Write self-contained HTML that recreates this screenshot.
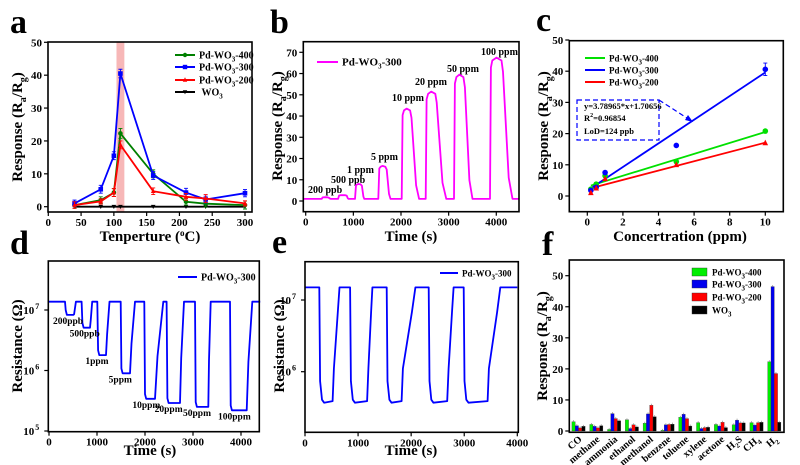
<!DOCTYPE html>
<html><head><meta charset="utf-8">
<style>
html,body{margin:0;padding:0;background:#fff;}
svg{display:block;font-family:"Liberation Serif",serif;font-weight:bold;}
</style></head>
<body>
<svg id="fig" width="800" height="465" viewBox="0 0 800 465" xmlns="http://www.w3.org/2000/svg">
<g font-size="34" font-weight="bold">
<text x="10" y="33">a</text>
<text x="270" y="33">b</text>
<text x="536" y="31">c</text>
<text x="10" y="254">d</text>
<text x="272" y="253">e</text>
<text x="542" y="255">f</text>
</g>
<g font-size="10">
<text x="308" y="193">200 ppb</text>
<text x="331" y="183">500 ppb</text>
<text x="347" y="173">1 ppm</text>
<text x="371" y="160">5 ppm</text>
<text x="392" y="101">10 ppm</text>
<text x="415" y="85">20 ppm</text>
<text x="447" y="72">50 ppm</text>
<text x="481" y="55">100 ppm</text>
</g>
</svg>
<script>
// ---------- Panel a data ----------
const tempsA = [40, 80, 100, 110, 160, 210, 240, 300];
const respA400 = [0.5, 2, 4.3, 22.3, 10, 1.5, 0.9, 0.5];
const respA300 = [1, 5.3, 15.5, 40.5, 9.5, 4.3, 2.2, 4.1];
const respA200 = [0.5, 1.6, 4.3, 18.8, 4.7, 3, 2.5, 1];
const respAWO3 = [0, 0, 0, 0, 0, 0, 0, 0];
const errA400 = [1, 1, 1.2, 1.5, 1.2, 1, 1, 1.2];
const errA300 = [1, 1.2, 1.2, 1.3, 1.2, 1.3, 1, 1.1];
const errA200 = [1, 0.8, 1.2, 1.2, 1, 1, 1.2, 0.8];
const bandA = [104, 116];
const xTicksA = [0, 50, 100, 150, 200, 250, 300];
const yTicksA = [0, 10, 20, 30, 40, 50];
// ---------- Panel b data ----------
const pulseStartB = [335, 680, 1035, 1524, 2014, 2518, 3112, 3867];
const pulseEndB = [480, 860, 1180, 1700, 2220, 2750, 3340, 4140];
const pulseRecB = [530, 900, 1230, 1780, 2380, 2950, 3500, 4340];
const pulsePeakB = [1.8, 2.8, 8, 16.5, 43.5, 51.5, 59.5, 67.5];
const baselineB = 1;
const xTicksB = [0, 1000, 2000, 3000, 4000];
const yTicksB = [0, 10, 20, 30, 40, 50, 60, 70];
// ---------- Panel c data ----------
const concC = [0.2, 0.5, 1, 5, 10];
const respC400 = [2.2, 3.8, 6.5, 11, 20.8];
const respC300 = [1.8, 2.8, 7.5, 16.2, 40.6];
const respC200 = [1, 2.5, 5.5, 10, 17];
const fitSlopeC = [1.75, 3.78965, 1.49];
const fitInterC = [3.0, 1.70656, 2.2];
const xTicksC = [0, 2, 4, 6, 8, 10];
const yTicksC = [0, 10, 20, 30, 40, 50];
// ---------- Panel d data ----------
const fallD = [333, 680, 1007, 1493, 1986, 2451, 3042, 3771];
const riseD = [507, 854, 1188, 1688, 2208, 2729, 3319, 4118];
const recD = [560, 900, 1260, 1792, 2382, 2812, 3368, 4236];
const minD = [8.3e6, 5.1e6, 1.8e6, 9e5, 3.4e5, 2.9e5, 2.5e5, 2.2e5];
const baseD = 1.37e7;
const labelsD = ["200ppb", "500ppb", "1ppm", "5ppm", "10ppm", "20ppm", "50ppm", "100ppm"];
const xTicksD = [0, 1000, 2000, 3000, 4000];
const yExpD = [5, 6, 7];
// ---------- Panel e data ----------
const fallE = [270, 850, 1540, 2330, 2990];
const upE = [520, 1170, 1820, 2680, 3440];
const highE = [650, 1270, 2080, 2800, 3680];
const lowE = 3.7e5;
const baseE = 1.5e7;
const xTicksE = [0, 1000, 2000, 3000, 4000];
const yExpE = [6, 7];
// ---------- Panel f data ----------
const gasesF = ["CO", "methane", "ammonia", "ethanol", "methanol", "benzene", "toluene", "xylene", "acetone", "H2S", "CH4", "H2"];
const respF400 = [3, 2.1, 0.5, 3.6, 2.5, 0.2, 4.4, 2.7, 2.1, 2, 2.7, 22.3];
const respF300 = [1.7, 1.5, 5.6, 0.8, 5.5, 2, 5.4, 0.8, 1.6, 3.5, 1.9, 46.5];
const respF200 = [1, 1, 4, 2, 8.3, 2.1, 4, 1.1, 2.8, 2.6, 2.7, 18.5];
const respFWO3 = [1.5, 1.7, 3.3, 1.3, 4.6, 2.2, 1.6, 1.2, 1.1, 2.6, 2.8, 2.8];
const yTicksF = [0, 10, 20, 30, 40, 50];

const NS = "http://www.w3.org/2000/svg";
const svg = document.getElementById('fig');
function mk(tag, attrs, parent) {
  const e = document.createElementNS(NS, tag);
  for (const k in attrs) e.setAttribute(k, attrs[k]);
  (parent || svg).appendChild(e);
  return e;
}
function lin(d0, d1, p0, p1) { return v => p0 + (v - d0) * (p1 - p0) / (d1 - d0); }
function logS(e0, p0, pxPerDec) { return v => p0 - (Math.log10(v) - e0) * pxPerDec; }
function ptsToD(pts) { return pts.map((p, i) => (i ? 'L' : 'M') + p[0].toFixed(1) + ',' + p[1].toFixed(1)).join(''); }

function frame(g, L, R, T, B) {
  const r = mk('rect', {x: L, y: T, width: R - L, height: B - T, fill: 'none', stroke: '#000', 'stroke-width': 1.6}, g);
  
  
}
function xTicks(g, vals, sx, B, fmt) {
  vals.forEach(v => {
    const x = sx(v);
    const t = mk('line', {x1: x, x2: x, y1: B, y2: B + 4, stroke: '#000', 'stroke-width': 1.2}, g);
    
    
    const l = mk('text', {x: x, y: B + 14, 'font-size': 11, 'text-anchor': 'middle'}, g);
    
    
    l.textContent = fmt ? fmt(v) : v;
  });
}
function yTicks(g, vals, sy, L) {
  vals.forEach(v => {
    const y = sy(v);
    const t = mk('line', {x1: L - 4, x2: L, y1: y, y2: y, stroke: '#000', 'stroke-width': 1.2}, g);
    
    
    const l = mk('text', {x: L - 6, y: y + 4, 'font-size': 11, 'text-anchor': 'end'}, g);
    
    
    l.textContent = v;
  });
}
function yLogTicks(g, exps, sy, L) {
  exps.forEach(e => {
    const y = sy(Math.pow(10, e));
    const t = mk('line', {x1: L - 4, x2: L, y1: y, y2: y, stroke: '#000', 'stroke-width': 1.2}, g);
    
    
    const l = mk('text', {x: L - 14, y: y + 4, 'font-size': 11, 'text-anchor': 'end'}, g);
    
    
    l.textContent = '10';
    const s = mk('text', {x: L - 13, y: y - 1, 'font-size': 8}, g);
    
    
    s.textContent = e;
  });
}
function respTitle(g, cx, cy) {
  const t = mk('text', {x: 0, y: 0, 'font-size': 15, 'text-anchor': 'middle', transform: `translate(${cx},${cy}) rotate(-90)`}, g);
  
  
  t.innerHTML = 'Response (R<tspan font-size="10" dy="4">a</tspan><tspan dy="-4">/R</tspan><tspan font-size="10" dy="4">g</tspan><tspan dy="-4">)</tspan>';
}
function resTitle(g, cx, cy) {
  const t = mk('text', {x: 0, y: 0, 'font-size': 15, 'text-anchor': 'middle', transform: `translate(${cx},${cy}) rotate(-90)`}, g);
  
  
  t.textContent = 'Resistance (Ω)';
}
function xTitle(g, cx, cy, txt) {
  const t = mk('text', {x: cx, y: cy, 'font-size': 15, 'text-anchor': 'middle'}, g);
  
  
  t.innerHTML = txt;
}
function legendLine(g, x1, x2, y, color, label, fs) {
  const l = mk('line', {x1: x1, x2: x2, y1: y, y2: y, stroke: color, 'stroke-width': 2}, g);
  
  
  const t = mk('text', {x: x2 + 4, y: y + 3.5, 'font-size': fs || 10}, g);
  
  
  t.innerHTML = label;
  return l;
}
function marker(g, type, x, y, color, r) {
  r = r || 2.6;
  let m;
  if (type === 'sq') m = mk('rect', {x: x - r, y: y - r, width: 2 * r, height: 2 * r, fill: color}, g);
  else if (type === 'circ') m = mk('circle', {cx: x, cy: y, r: r, fill: color}, g);
  else if (type === 'tri') m = mk('polygon', {points: `${x},${y - r - 0.5} ${x - r},${y + r - 0.5} ${x + r},${y + r - 0.5}`, fill: color}, g);
  else m = mk('polygon', {points: `${x},${y + r} ${x - r},${y - r + 0.5} ${x + r},${y - r + 0.5}`, fill: color}, g);
  
  
}
const wo3 = 'WO<tspan font-size="7" dy="3">3</tspan>';
function pdLbl(n) { return 'Pd-WO<tspan font-size="7" dy="3">3</tspan><tspan dy="-3">-' + n + '</tspan>'; }

// ================= Panel a =================
(function () {
  const g = mk('g', {});
  
  
  const L = 48, R = 252, T = 42, B = 212;
  const sx = lin(0, 300, 48.3, 245), sy = lin(0, 50, 206.7, 42.3);
  const band = mk('rect', {x: sx(bandA[0]), y: T, width: sx(bandA[1]) - sx(bandA[0]), height: B - T, fill: '#f7b7b7'}, g);
  
  
  const series = [
    [respAWO3, null, '#000', 'tri-down', 'series-wo3'],
    [respA400, errA400, '#008000', 'circ', 'series-pd-wo3-400'],
    [respA300, errA300, '#0000ff', 'sq', 'series-pd-wo3-300'],
    [respA200, errA200, '#ff0000', 'tri', 'series-pd-wo3-200'],
  ];
  series.forEach(([vals, errs, col, mt, nm]) => {
    const p = mk('path', {d: ptsToD(vals.map((v, i) => [sx(tempsA[i]), sy(v)])), fill: 'none', stroke: col, 'stroke-width': 1.8}, g);
    
    
    vals.forEach((v, i) => {
      const x = sx(tempsA[i]);
      if (errs) {
        const e = mk('path', {d: `M${x},${sy(v - errs[i])}V${sy(v + errs[i])}M${x - 2},${sy(v - errs[i])}h4M${x - 2},${sy(v + errs[i])}h4`, stroke: col, 'stroke-width': 0.9, fill: 'none'}, g);
        
        
      }
      marker(g, mt, x, sy(v), col, 2.3);
    });
  });
  frame(g, L, R, T, B);
  xTicks(g, xTicksA, sx, B);
  yTicks(g, yTicksA, sy, L);
  respTitle(g, 22, 127);
  xTitle(g, 150, 241, 'Tenperture (<tspan font-size="9" dy="-5">o</tspan><tspan dy="5">C)</tspan>');
  const lg = mk('g', {}, g);
  
  
  [['#008000', pdLbl(400), 'circ', 55], ['#0000ff', pdLbl(300), 'sq', 67], ['#ff0000', pdLbl(200), 'tri', 80], ['#000', '&#160;' + wo3, 'tri-down', 92]].forEach(([c, t, m, y]) => {
    legendLine(lg, 175, 195, y, c, t, 10);
    marker(lg, m, 185, y, c, 2.2);
  });
})();

// ================= Panel b =================
(function () {
  const g = mk('g', {});
  
  
  const L = 303.3, R = 519, T = 41.7, B = 211.7;
  const sx = lin(0, 4000, 305.7, 496.3), sy = lin(0, 70, 201, 52.3);
  const pts = [[sx(-50), sy(baselineB)]];
  pulseStartB.forEach((s, i) => {
    const pk = pulsePeakB[i], e = pulseEndB[i], rc = pulseRecB[i];
    pts.push([sx(s), sy(baselineB)]);
    pts.push([sx(s + 20), sy(pk * 0.93)]);
    pts.push([sx(s + 50), sy(pk * 0.98)]);
    pts.push([sx((s + e) / 2), sy(pk)]);
    pts.push([sx(e - 30), sy(pk * 0.98)]);
    pts.push([sx(e), sy(pk * 0.9)]);
    pts.push([sx(e + (rc - e) * 0.6), sy(baselineB + (pk - baselineB) * 0.15)]);
    pts.push([sx(rc), sy(baselineB)]);
  });
  pts.push([sx(4480), sy(baselineB)]);
  const p = mk('path', {d: ptsToD(pts), fill: 'none', stroke: '#ff00ff', 'stroke-width': 1.8, 'stroke-linejoin': 'round'}, g);
  
  
  frame(g, L, R, T, B);
  xTicks(g, xTicksB, sx, B);
  yTicks(g, yTicksB, sy, L);
  respTitle(g, 282, 126);
  xTitle(g, 411, 241, 'Time (s)');
  const lg = mk('g', {}, g);
  
  
  legendLine(lg, 317, 338, 62, '#ff00ff', pdLbl(300), 11);
})();

// ================= Panel c =================
(function () {
  const g = mk('g', {});
  
  
  const L = 569.3, R = 783.3, T = 40.7, B = 211.7;
  const sx = lin(0, 10, 587.3, 765.3), sy = lin(0, 50, 196, 40);
  const series = [[respC400, '#00e000', 'circ', 'series-pd-wo3-400'], [respC300, '#0000ff', 'circ', 'series-pd-wo3-300'], [respC200, '#ff0000', 'tri', 'series-pd-wo3-200']];
  series.forEach(([vals, col, mt, nm], k) => {
    const x0 = concC[0], x1 = concC[concC.length - 1];
    const l = mk('line', {x1: sx(x0), y1: sy(fitSlopeC[k] * x0 + fitInterC[k]), x2: sx(x1), y2: sy(fitSlopeC[k] * x1 + fitInterC[k]), stroke: col, 'stroke-width': 1.8}, g);
    
    
  });
  series.forEach(([vals, col, mt, nm]) => {
    vals.forEach((v, i) => marker(g, mt, sx(concC[i]), sy(v), col, 2.8));
  });
  const eb = mk('path', {d: `M${sx(10)},${sy(38.6)}V${sy(42.6)}M${sx(10) - 2},${sy(38.6)}h4M${sx(10) - 2},${sy(42.6)}h4`, stroke: '#0000ff', 'stroke-width': 0.9, fill: 'none'}, g);
  
  
  const box = mk('path', {d: 'M577,100H659V140H577Z M659,100L690,120', fill: 'none', stroke: '#0000ff', 'stroke-width': 1.2, 'stroke-dasharray': '5,3'}, g);
  
  
  const ar = mk('polygon', {points: '693,122 685,120 688,115', fill: '#0000ff'}, g);
  
  
  [['y=3.78965*x+1.70656', 109], ['R<tspan font-size="6" dy="-4">2</tspan><tspan dy="4">=0.96854</tspan>', 121], ['LoD=124 ppb', 134]].forEach(([t, y]) => {
    const e = mk('text', {x: 584, y: y, 'font-size': 8.5}, g);
    
    
    e.innerHTML = t;
  });
  frame(g, L, R, T, B);
  xTicks(g, xTicksC, sx, B);
  yTicks(g, yTicksC, sy, L);
  respTitle(g, 548, 126);
  xTitle(g, 680, 241, 'Concertration (ppm)');
  const lg = mk('g', {}, g);
  
  
  legendLine(lg, 585, 605, 58, '#00e000', pdLbl(400), 9);
  legendLine(lg, 585, 605, 70, '#0000ff', pdLbl(300), 9);
  legendLine(lg, 585, 605, 82, '#ff0000', pdLbl(200), 9);
})();

// ================= Panel d =================
(function () {
  const g = mk('g', {});
  
  
  const L = 48.3, R = 259.3, T = 261, B = 431.7;
  const sx = lin(0, 4000, 49, 241), sy = logS(5, 431, 60.5);
  const pts = [[sx(0), sy(baseD)]];
  fallD.forEach((f, i) => {
    const m = minD[i];
    pts.push([sx(f), sy(baseD)]);
    pts.push([sx(f + 15), sy(m * 1.2)]);
    pts.push([sx(f + 40), sy(m)]);
    pts.push([sx(riseD[i]), sy(m)]);
    pts.push([sx(riseD[i] + (recD[i] - riseD[i]) * 0.3), sy(Math.sqrt(m * baseD) * 0.8)]);
    pts.push([sx(recD[i]), sy(baseD)]);
  });
  pts.push([sx(4400), sy(baseD)]);
  const p = mk('path', {d: ptsToD(pts), fill: 'none', stroke: '#0000ff', 'stroke-width': 1.8, 'stroke-linejoin': 'round'}, g);
  
  
  labelsD.forEach((lb, i) => {
    const t = mk('text', {x: sx(fallD[i]) - 12, y: sy(minD[i]) + 9, 'font-size': 9.5}, g);
    
    
    t.textContent = lb;
  });
  frame(g, L, R, T, B);
  xTicks(g, xTicksD, sx, B);
  yLogTicks(g, yExpD, sy, L);
  resTitle(g, 22, 346);
  xTitle(g, 150, 455, 'Time (s)');
  const lg = mk('g', {}, g);
  
  
  legendLine(lg, 178, 197, 277, '#0000ff', pdLbl(300), 10);
})();

// ================= Panel e =================
(function () {
  const g = mk('g', {});
  
  
  const L = 305, R = 518.3, T = 261.7, B = 432.3;
  const sx = lin(0, 4000, 305, 517.3), sy = logS(7, 300, 71.7);
  const pts = [[sx(0), sy(baseE)]];
  fallE.forEach((f, i) => {
    pts.push([sx(f), sy(baseE)]);
    pts.push([sx(f + 15), sy(lowE * 2)]);
    pts.push([sx(f + 50), sy(lowE * 1.1)]);
    pts.push([sx(f + 90), sy(lowE)]);
    pts.push([sx(upE[i]), sy(lowE * 1.05)]);
    pts.push([sx(upE[i] + 25), sy(lowE * 3)]);
    pts.push([sx(upE[i] + (highE[i] - upE[i]) * 0.75), sy(baseE * 0.45)]);
    pts.push([sx(highE[i]), sy(baseE)]);
  });
  pts.push([sx(4000), sy(baseE)]);
  const p = mk('path', {d: ptsToD(pts), fill: 'none', stroke: '#0000ff', 'stroke-width': 1.8, 'stroke-linejoin': 'round'}, g);
  
  
  frame(g, L, R, T, B);
  xTicks(g, xTicksE, sx, B);
  yLogTicks(g, yExpE, sy, L);
  resTitle(g, 284, 346);
  xTitle(g, 411, 455, 'Time (s)');
  const lg = mk('g', {}, g);
  
  
  legendLine(lg, 440, 458, 273, '#0000ff', pdLbl(300), 9);
})();

// ================= Panel f =================
(function () {
  const g = mk('g', {});
  
  
  const L = 569.3, R = 784, T = 260, B = 432.3;
  const sy = lin(0, 50, 431, 275.7);
  const cx = i => 578.5 + i * 17.8;
  const bw = 3.3;
  const series = [[respF400, '#00ee00', 'bar-pd-wo3-400'], [respF300, '#0000ee', 'bar-pd-wo3-300'], [respF200, '#ff0000', 'bar-pd-wo3-200'], [respFWO3, '#000', 'bar-wo3']];
  gasesF.forEach((gas, i) => {
    series.forEach(([vals, col, nm], j) => {
      const x = cx(i) + (j - 2) * bw;
      const v = vals[i];
      const b = mk('rect', {x: x, y: sy(v), width: bw, height: sy(0) - sy(v), fill: col, stroke: '#333', 'stroke-width': 0.3}, g);
      
      
      const e = mk('line', {x1: x + bw / 2, x2: x + bw / 2, y1: sy(v), y2: sy(v) - 1.5, stroke: '#999', 'stroke-width': 0.8}, g);
      
      
    });
    const t = mk('text', {x: 0, y: 0, 'font-size': 10, 'text-anchor': 'end', transform: `translate(${cx(i) + 4},${B + 8}) rotate(-40)`}, g);
    
    
    if (gas === 'H2S') t.innerHTML = 'H<tspan font-size="7" dy="3">2</tspan><tspan dy="-3">S</tspan>';
    else if (gas === 'CH4') t.innerHTML = 'CH<tspan font-size="7" dy="3">4</tspan>';
    else if (gas === 'H2') t.innerHTML = 'H<tspan font-size="7" dy="3">2</tspan>';
    else t.textContent = gas;
  });
  frame(g, L, R, T, B);
  yTicks(g, yTicksF, sy, L);
  respTitle(g, 547, 346);
  const lg = mk('g', {}, g);
  
  
  [['#00ee00', pdLbl(400), 272], ['#0000ee', pdLbl(300), 284], ['#ff0000', pdLbl(200), 297], ['#000', wo3, 310]].forEach(([c, t, y]) => {
    const r = mk('rect', {x: 692, y: y - 4, width: 15, height: 8, fill: c, stroke: '#333', 'stroke-width': 0.4}, lg);
    
    
    const tx = mk('text', {x: 712, y: y + 3.5, 'font-size': 9}, lg);
    
    
    tx.innerHTML = t;
  });
})();
</script>
</body></html>
